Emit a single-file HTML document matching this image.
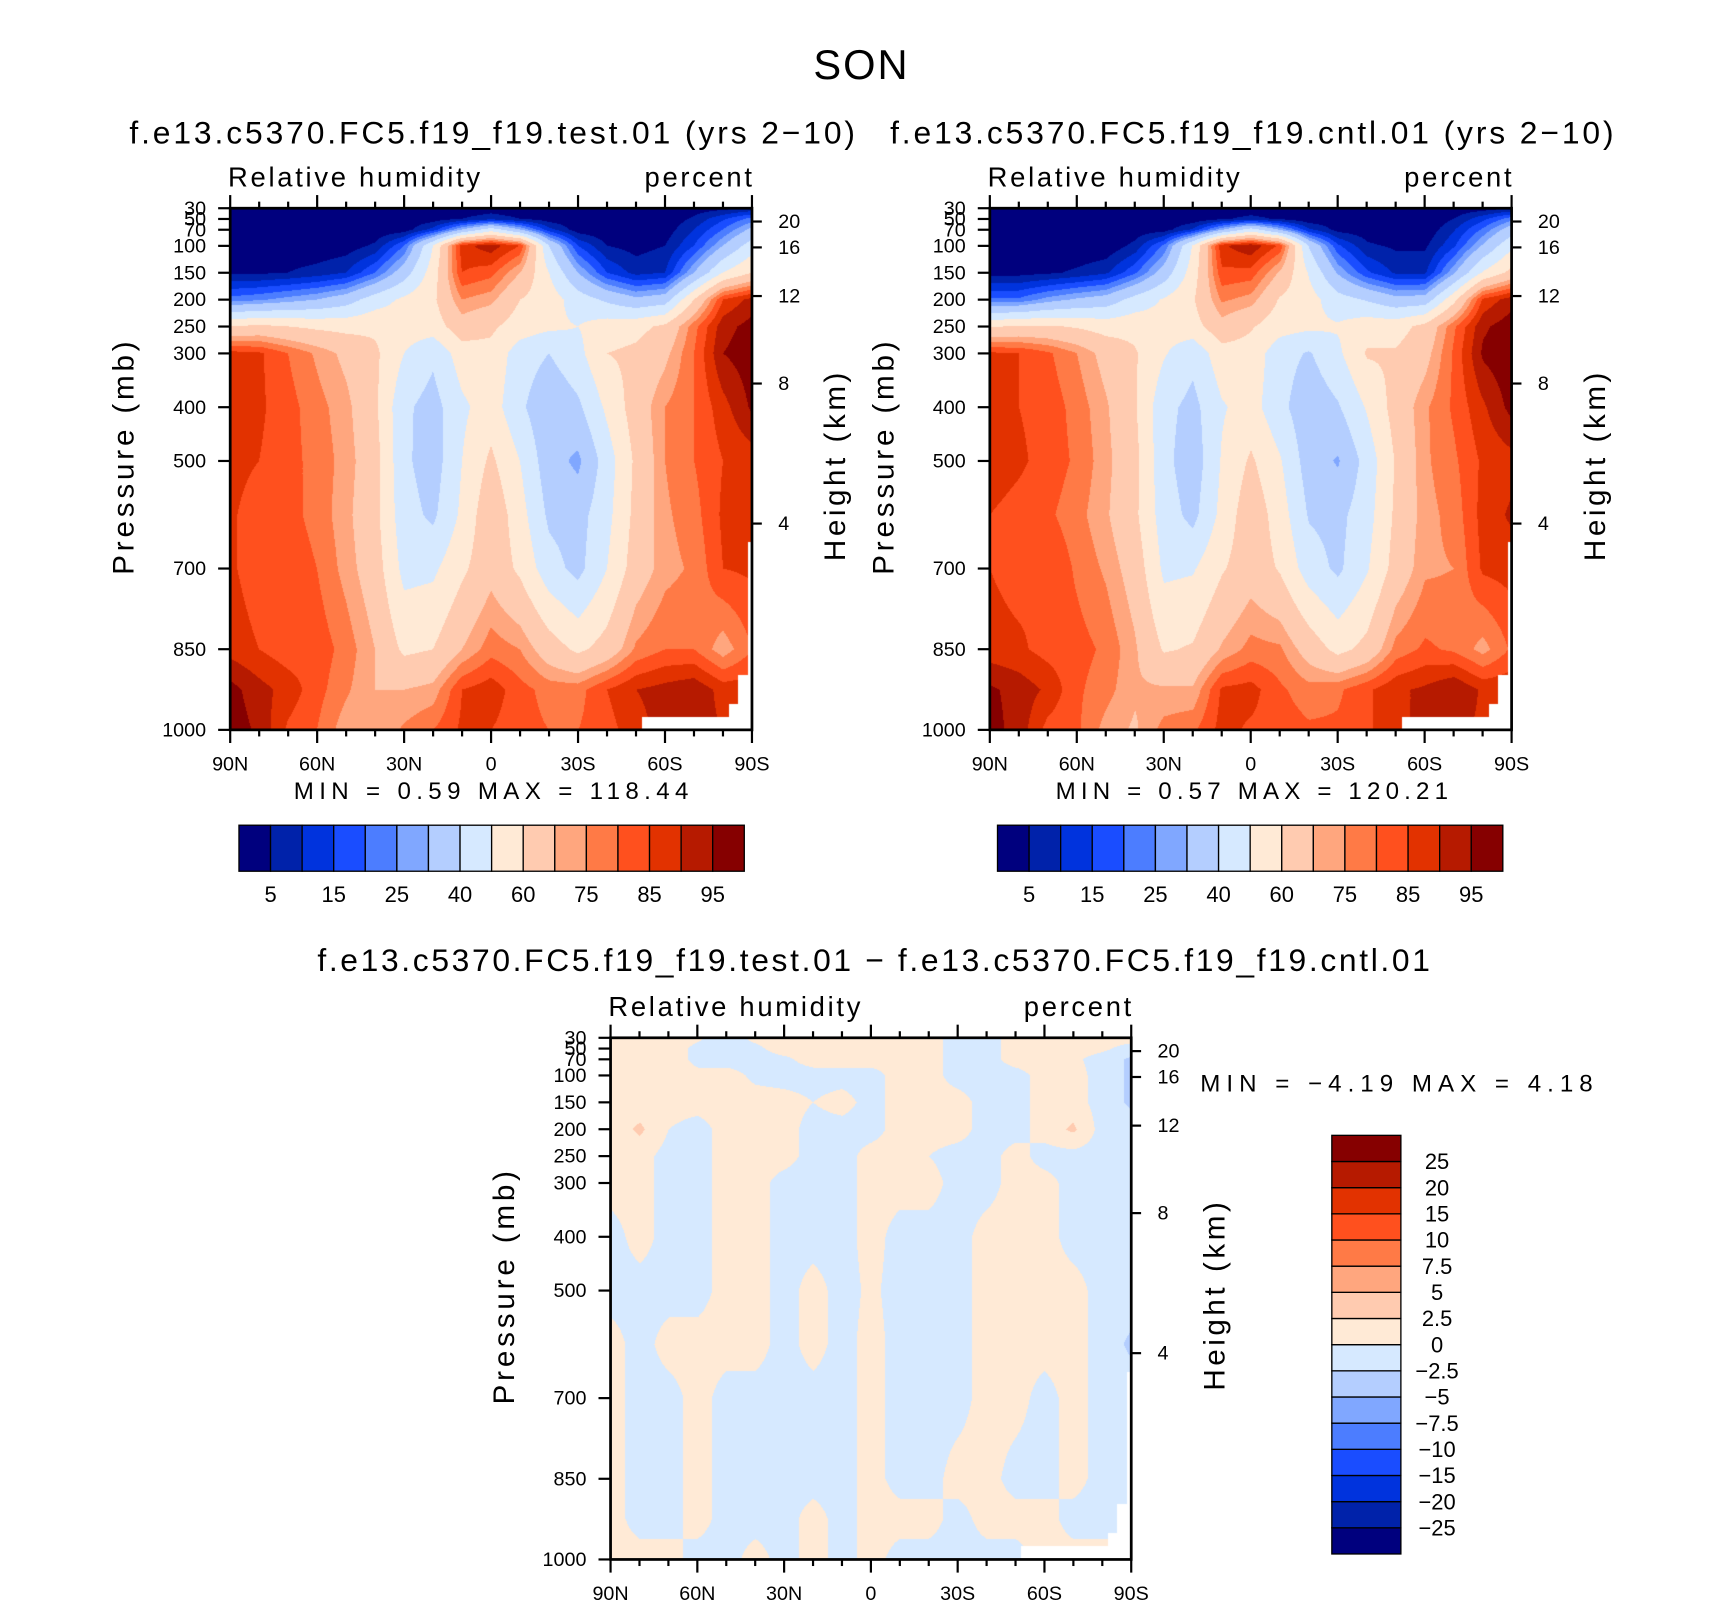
<!DOCTYPE html>
<html><head><meta charset="utf-8"><style>
html,body{margin:0;padding:0;background:#fff}
#wrap{position:relative;width:1710px;height:1600px;overflow:hidden;background:#fff}
canvas{position:absolute}
svg{position:absolute;left:0;top:0}
text{font-family:"Liberation Sans",sans-serif;fill:#000}
</style></head><body>
<div id="wrap">
<canvas id="c1"></canvas>
<canvas id="c2"></canvas>
<canvas id="c3"></canvas>
<svg id="svg" width="1710" height="1600" viewBox="0 0 1560 1460" preserveAspectRatio="none"></svg>
</div>
<script>
const lats=[90,80,70,60,50,40,30,20,10,0,-10,-20,-30,-40,-50,-60,-70,-80,-90];
const levels=[30,50,70,100,150,200,250,300,400,500,600,700,850,925,1000];
const testRH=[
[1,1,1,1,1,1,1,1,1,2,1,1,1,1,1,1,2,3,5],
[1,1,1,1,1,1,1,2,5,8,5,2,1,1,1,1,6,14,22],
[1,1,1,1,1,1,2,12,30,45,30,12,2,1,1,2,10,20,32],
[1,1,1,1,2,6,20,50,88,93,85,40,15,5,3,5,15,30,45],
[4,4,5,7,10,20,35,55,85,82,70,50,30,15,8,10,30,50,60],
[22,24,27,30,35,45,52,58,75,72,60,55,45,38,32,35,60,85,92],
[60,62,60,58,57,58,55,55,66,62,55,52,50,55,57,62,78,93,97],
[87,86,80,74,68,62,50,42,55,57,45,40,47,60,62,68,80,95,98],
[87,86,82,77,72,62,42,36,48,55,42,32,38,52,65,75,80,88,96],
[87,85,82,78,73,64,42,35,50,62,50,34,28,45,62,75,80,85,87],
[86,82,82,78,72,63,44,38,52,68,54,38,36,47,63,74,78,86,88],
[86,82,84,80,73,65,47,48,58,67,58,44,37,50,65,73,76,85,86],
[88,85,82,83,78,70,58,60,70,78,75,65,58,64,76,80,80,72,80],
[97,92,88,82,76,70,70,72,85,88,82,78,78,85,90,92,94,88,88],
[98,94,84,80,72,70,76,80,86,85,82,80,80,83,88,92,92,90,88]];
const diffRH=[
[1,1,1,0.3,-1,0.5,1,1,1,1,1,1,-1,-1,1,1,1,1,1],
[1,1,1,-0.5,-1,-0.5,1,1,1,1,1,1,-1,-1,1,1,1,0.5,-1],
[1,1,1,-0.5,-1,-1,-0.5,1,1,1,1,1,-1,-1,1,1,0.5,-1,-3],
[1,1,1,0.5,1,-0.5,-1,-1,-1,-1,1,1,-1,-1,-1,1,1,-1,-3],
[1,1,1,1,1,1,1,0,1,-1,1,1,1,-1,-1,1,1,-1,-3],
[1,3,0,-1,1,1.5,1,-1,-1,-1,1,1,1,-1,-1,1,3,-1,-1],
[1,1,-1,-1,1,1,1,-1,-1,1,1,0,-1,-1,1,-1,-1,-1,-1],
[1,1,-1,-1,1,1,-1,-1,-1,1,1,1,-1,-1,1,1,-1,-1,-1],
[-1,1,-1,-1,1,1,-1,-1,-1,1,-1,-1,-1,1,1,1,-1,-1,-1],
[-1,-1,-1,-1,1,1,-1,1,-1,0.5,-1,-1,-1,1,1,1,1,-1,-1],
[1,-1,1,1,1,1,-1,1,-1,1,-1,-1,-1,1,1,1,1,-1,-3],
[1,-1,-1,1,-1,-1,-1,-1,-1,1,-1,-1,-1,1,1,-1,1,-1,-1],
[1,-1,-1,1,-1,-1,-1,-1,-1,1,-1,-1,1,1,-1,-1,1,-1,-1],
[1,-1,-1,1,-1,-1,-1,1,-1,1,1,1,-1,1,1,1,-1,-1,-1],
[1,1,1,-1,-1,1,-1,1,-1,1,-1,-1,-1,-1,-1,1,1,1,1]];
const surfLat=[-52,-82,-85,-88.5];
const surfP=[975,952,898,651];
const rhBounds=[5,10,15,20,25,30,40,50,60,70,75,80,85,90,95];
const rhLabels=["5","15","25","40","60","75","85","95"];
const diffBounds=[-25,-20,-15,-10,-7.5,-5,-2.5,0,2.5,5,7.5,10,15,20,25];
const diffLabels=["−25","−20","−15","−10","−7.5","−5","−2.5","0","2.5","5","7.5","10","15","20","25"];
const pTicks=[30,50,70,100,150,200,250,300,400,500,700,850,1000];
const kmTicks=[20,16,12,8,4];
const latTicks=[90,60,30,0,-30,-60,-90];
const latTickLabels=["90N","60N","30N","0","30S","60S","90S"];
const palette=["#00007e","#0022aa","#0033dd","#1a4dff","#4c7dff","#80a7ff","#b4ceff","#d6e9ff","#ffead6","#ffcbb0","#ffa67e","#ff7a46","#ff501e","#e23200","#b61a00","#860000"];

const cntlRH=testRH.map((r,k)=>r.map((v,i)=>v-diffRH[k][i]));
const SX=1710/1560, SY=1600/1460;
const NS="http://www.w3.org/2000/svg";
const svg=document.getElementById('svg');
function mk(tag,attrs,parent){const e=document.createElementNS(NS,tag);for(const k in attrs)e.setAttribute(k,attrs[k]);(parent||svg).appendChild(e);return e;}
function txt(s,x,y,size,anchor,parent,len){const a={x:x,y:y,'font-size':size,'text-anchor':anchor||'start'};if(len){a.textLength=len;a.lengthAdjust='spacing';}const t=mk('text',a,parent);t.textContent=s;return t;}

function sample(grid,lat,p){
  let fi=(90-lat)/10; let i=Math.min(Math.max(Math.floor(fi),0),17); let tx=fi-i;
  let k=0; while(k<levels.length-2 && p>levels[k+1])k++;
  let ty=(p-levels[k])/(levels[k+1]-levels[k]);
  const a=grid[k][i],b=grid[k][i+1],c=grid[k+1][i],d=grid[k+1][i+1];
  return a*(1-tx)*(1-ty)+b*tx*(1-ty)+c*(1-tx)*ty+d*tx*ty;
}
function cls(v,bounds){let n=0;for(const b of bounds){if(v>=b)n++;}return n;}
function masked(lat,p){for(let j=0;j<surfLat.length;j++){if(lat<surfLat[j]&&p>surfP[j])return true;}return false;}
function hex(h){return [parseInt(h.substr(1,2),16),parseInt(h.substr(3,2),16),parseInt(h.substr(5,2),16)];}
const rgb=palette.map(hex);

function drawField(id,grid,bounds,x0,y0,w,h){
  const cv=document.getElementById(id);
  const L=Math.round(x0*SX),T=Math.round(y0*SY),W=Math.round((x0+w)*SX)-L,H=Math.round((y0+h)*SY)-T;
  cv.width=W;cv.height=H;cv.style.left=L+'px';cv.style.top=T+'px';
  const ctx=cv.getContext('2d');const img=ctx.createImageData(W,H);
  for(let y=0;y<H;y++){const p=30+(y+0.5)/H*970;
    for(let x=0;x<W;x++){const lat=90-(x+0.5)/W*180;const o=(y*W+x)*4;
      let c=[255,255,255];
      if(!masked(lat,p)){c=rgb[cls(sample(grid,lat,p),bounds)];}
      img.data[o]=c[0];img.data[o+1]=c[1];img.data[o+2]=c[2];img.data[o+3]=255;}}
  ctx.putImageData(img,0,0);
}
function kmToP(z){z*=1000;if(z<=11000)return 1013.25*Math.pow(1-2.25577e-5*z,5.25588);return 226.32*Math.exp(-(z-11000)/6341.6);}

function axes(name,x0,y0,w,h){
  const g=mk('g',{});
  
  
  const py=p=>y0+(p-30)/970*h;
  const lx=lat=>x0+(90-lat)/180*w;
  for(let lat=90;lat>=-90;lat-=10){const major=(lat%30===0);const L=major?12:6;const x=lx(lat);
    mk('line',{x1:x,y1:y0,x2:x,y2:y0-L,stroke:'#000','stroke-width':2},g);
    mk('line',{x1:x,y1:y0+h,x2:x,y2:y0+h+L,stroke:'#000','stroke-width':2},g);}
  pTicks.forEach(p=>{const y=py(p);mk('line',{x1:x0,y1:y,x2:x0-11,y2:y,stroke:'#000','stroke-width':2},g);
    const t=txt(String(p),x0-22,y+6,18,'end',g);
    
    });
  kmTicks.forEach(k=>{const y=py(kmToP(k));mk('line',{x1:x0+w,y1:y,x2:x0+w+9,y2:y,stroke:'#000','stroke-width':2},g);
    const t=txt(String(k),x0+w+24,y+6,18,'start',g);
    
    });
  latTicks.forEach((lat,i)=>{const t=txt(latTickLabels[i],lx(lat),y0+h+37,18,'middle',g);
    
    });
  mk('rect',{x:x0,y:y0,width:w,height:h,fill:'none',stroke:'#000','stroke-width':2.5},g);
  const yt=txt('Pressure  (mb)',0,0,27,'middle',g,213);
  yt.setAttribute('transform','translate('+(x0-88)+','+(y0+h/2-10)+') rotate(-90)');
  
  
  const ht=txt('Height  (km)',0,0,27,'middle',g,172);
  ht.setAttribute('transform','translate('+(x0+w+85)+','+(y0+h/2-2)+') rotate(-90)');
  
  
  const rh=txt('Relative  humidity',x0-2,y0-20,25,'start',g,230);
  
  
  const pc=txt('percent',x0+w,y0-20,25,'end',g,98);
  
  
}
function hbar(name,x0,y0,w,h){
  const g=mk('g',{});
  
  
  const bw=w/palette.length;
  palette.forEach((c,i)=>{const r=mk('rect',{x:x0+i*bw,y:y0,width:bw,height:h,fill:c,stroke:'#000','stroke-width':1.2},g);
    
    });
  rhLabels.forEach((s,j)=>{const t=txt(s,x0+(2*j+1)*bw,y0+h+28,20,'middle',g);
    
    });
}
function vbar(name,x0,y0,w,h){
  const g=mk('g',{});
  
  
  const bh=h/palette.length;
  palette.forEach((c,i)=>{const r=mk('rect',{x:x0,y:y0+h-(i+1)*bh,width:w,height:bh,fill:c,stroke:'#000','stroke-width':1.2},g);
    
    });
  diffLabels.forEach((s,j)=>{const t=txt(s,x0+w+33,y0+h-(j+1)*bh+7,20,'middle',g);
    
    });
}

drawField('c1',testRH,rhBounds,210,190,476,476);
drawField('c2',cntlRH,rhBounds,903,190,476,476);
drawField('c3',diffRH,diffBounds,557,947,475,476);

const t0=txt('SON',785,72,38,'middle',null,86);


const t1=txt('f.e13.c5370.FC5.f19_f19.test.01  (yrs  2−10)',449,131,29,'middle',null,662);


const t2=txt('f.e13.c5370.FC5.f19_f19.cntl.01  (yrs  2−10)',1142,131,29,'middle',null,660);


const t3=txt('f.e13.c5370.FC5.f19_f19.test.01  −  f.e13.c5370.FC5.f19_f19.cntl.01',797,886,29,'middle',null,1015);



axes('test-panel',210,190,476,476);
axes('cntl-panel',903,190,476,476);
axes('difference-panel',557,947,475,476);

const m1=txt('MIN  =      0.59    MAX  =  118.44',268,729,22,'start',null,360);


const m2=txt('MIN  =      0.57    MAX  =  120.21',963,729,22,'start',null,358);


const m3=txt('MIN  =    −4.19    MAX  =      4.18',1095,996,22,'start',null,358);



hbar('test-colorbar',218,753,461,42);
hbar('cntl-colorbar',910,753,461,42);
vbar('difference-colorbar',1215,1036,63,382);
</script>
</body></html>
